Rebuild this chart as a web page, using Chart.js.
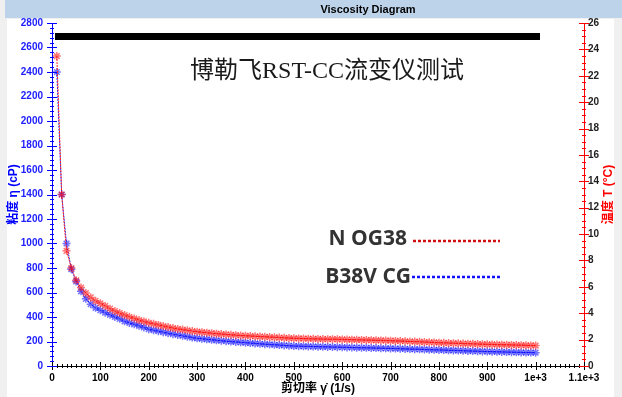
<!DOCTYPE html>
<html>
<head>
<meta charset="utf-8">
<script src="https://cdn.jsdelivr.net/npm/chart.js@4.4.1/dist/chart.umd.min.js"></script>
<style>
    html, body { margin: 0; padding: 0; background: #f0f0f0; }
    canvas { display: block; }
</style>
</head>
<body>
<canvas id="chart" width="622" height="397"></canvas>
<script>
// shear rate (1/s)
const shearRate = [
    10, 20, 30, 40, 50, 60, 70, 80, 90, 100,
    110, 120, 130, 140, 150, 160, 170, 180, 190, 200,
    210, 220, 230, 240, 250, 260, 270, 280, 290, 300,
    310, 320, 330, 340, 350, 360, 370, 380, 390, 400,
    410, 420, 430, 440, 450, 460, 470, 480, 490, 500,
    510, 520, 530, 540, 550, 560, 570, 580, 590, 600,
    610, 620, 630, 640, 650, 660, 670, 680, 690, 700,
    710, 720, 730, 740, 750, 760, 770, 780, 790, 800,
    810, 820, 830, 840, 850, 860, 870, 880, 890, 900,
    910, 920, 930, 940, 950, 960, 970, 980, 990, 1000
];
// viscosity (cP), N OG38 (red)
const viscosityNOG38 = [
    2530, 1400, 940, 800, 700, 640, 595, 560, 532, 512,
    490, 468, 448, 432, 416, 402, 388, 375, 364, 353,
    344, 335, 326, 318, 310, 303, 297, 291, 285, 280,
    276, 272, 268, 264, 261, 258, 255, 252, 249, 247,
    245, 242, 240, 238, 236, 234, 232, 230, 228, 226,
    225, 224, 223, 222, 221, 220, 219, 219, 218, 217,
    216, 215, 214, 213, 212, 211, 210, 209, 208, 207,
    205, 204, 202, 200, 199, 197, 195, 194, 192, 190,
    189, 187, 186, 185, 183, 182, 181, 179, 178, 177,
    176, 175, 174, 173, 172, 171, 170, 169, 168, 167
];
// viscosity (cP), B38V CG (blue)
const viscosityB38VCG = [
    2400, 1400, 1000, 790, 690, 610, 548, 505, 475, 455,
    435, 418, 400, 385, 365, 352, 340, 328, 315, 300,
    292, 284, 276, 268, 260, 253, 246, 239, 232, 226,
    222, 218, 214, 210, 206, 202, 199, 196, 193, 190,
    187, 184, 181, 178, 176, 173, 171, 168, 166, 163,
    162, 161, 160, 159, 158, 157, 156, 155, 154, 153,
    152, 151, 150, 149, 148, 147, 146, 145, 144, 143,
    142, 141, 139, 138, 137, 136, 135, 133, 132, 131,
    130, 128, 127, 126, 125, 123, 122, 121, 119, 118,
    117, 116, 115, 114, 113, 112, 111, 110, 110, 109
];
const xTickLabels = {1000: '1e+3', 1100: '1.1e+3'};

const seriesNames = ['N OG38', 'B38V CG'];
const FONT = "'Liberation Sans', Arial, sans-serif";

function points(ys) {
    return shearRate.map((x, i) => ({x: x, y: ys[i]}));
}

// background, header band, white panel
const backdrop = {
    id: 'backdrop',
    beforeDraw(chart) {
        const ctx = chart.ctx;
        ctx.save();
        ctx.fillStyle = '#f0f0f0';
        ctx.fillRect(0, 0, chart.width, chart.height);
        ctx.fillStyle = '#bdd3ea';
        ctx.fillRect(5, 0, chart.width - 5, 18);
        ctx.fillStyle = '#ffffff';
        ctx.fillRect(7, 19, 607, chart.height - 19);
        ctx.fillStyle = '#000';
        ctx.font = 'bold 11px ' + FONT;
        ctx.textAlign = 'center';
        ctx.textBaseline = 'middle';
        ctx.fillText('Viscosity Diagram', 368, 10);
        ctx.restore();
    }
};

function tickMarks(ctx, scale, step, from, to, horizontal, edge, len, color) {
    ctx.strokeStyle = color;
    ctx.lineWidth = 1;
    ctx.beginPath();
    for (let v = from; v <= to + 1e-9; v += step) {
        const p = Math.round(scale.getPixelForValue(v)) + 0.5;
        if (horizontal) {
            ctx.moveTo(p, edge - len);
            ctx.lineTo(p, edge + len);
        } else {
            ctx.moveTo(edge - len, p);
            ctx.lineTo(edge + len, p);
        }
    }
    ctx.stroke();
}

const decorations = {
    id: 'decorations',
    afterDraw(chart) {
        const ctx = chart.ctx;
        const area = chart.chartArea;
        const sx = chart.scales.x, sy = chart.scales.y, sy1 = chart.scales.y1;
        ctx.save();

        // ticks
        tickMarks(ctx, sx, 10, 0, 1100, true, area.bottom, 2, '#000');
        tickMarks(ctx, sx, 100, 0, 1100, true, area.bottom, 4, '#000');
        tickMarks(ctx, sy, 40, 0, 2800, false, area.left, 2, '#0000ff');
        tickMarks(ctx, sy, 200, 0, 2800, false, area.left, 5, '#0000ff');
        tickMarks(ctx, sy1, 0.5, 0, 26, false, area.right, 2, '#ff0000');
        tickMarks(ctx, sy1, 2, 0, 26, false, area.right, 5, '#ff0000');

        // axis titles
        const midY = (area.top + area.bottom) / 2;
        ctx.textAlign = 'center';
        ctx.textBaseline = 'middle';
        ctx.font = "bold 12px 'Liberation Sans', 'Noto Sans CJK SC', sans-serif";
        ctx.fillStyle = '#0000ff';
        ctx.save();
        ctx.translate(14, midY);
        ctx.rotate(-Math.PI / 2);
        ctx.fillText('粘度 η (cP)', 0, 0);
        ctx.restore();
        ctx.fillStyle = '#ff0000';
        ctx.save();
        ctx.translate(609, midY);
        ctx.rotate(-Math.PI / 2);
        ctx.fillText('温度 T (°C)', 0, 0);
        ctx.restore();
        ctx.fillStyle = '#000';
        ctx.fillText('剪切率 γ̇ (1/s)', (area.left + area.right) / 2, 389);

        // redaction bar
        ctx.fillStyle = '#000';
        ctx.fillRect(55, 33, 485, 7);

        // subtitle
        ctx.font = "24px 'Liberation Serif', 'Noto Sans CJK SC', serif";
        ctx.fillStyle = '#1a1a1a';
        ctx.fillText('博勒飞RST-CC流变仪测试', 327, 72);

        // legend
        ctx.font = "bold 21px 'Open Sans', 'Liberation Sans', sans-serif";
        ctx.fillStyle = '#333333';
        ctx.textAlign = 'right';
        ctx.fillText(seriesNames[0], 407, 239);
        ctx.fillText(seriesNames[1], 411, 277);
        ctx.lineWidth = 2.5;
        ctx.setLineDash([3, 2]);
        ctx.strokeStyle = '#d01010';
        ctx.beginPath();
        ctx.moveTo(413, 241);
        ctx.lineTo(500, 241);
        ctx.stroke();
        ctx.strokeStyle = '#1010ff';
        ctx.beginPath();
        ctx.moveTo(412, 277);
        ctx.lineTo(500, 277);
        ctx.stroke();
        ctx.restore();
    }
};

new Chart(document.getElementById('chart'), {
    type: 'line',
    data: {
        datasets: [
            {
                label: seriesNames[0],
                data: points(viscosityNOG38),
                yAxisID: 'y',
                borderColor: '#ff2020',
                borderWidth: 1,
                borderDash: [2, 1],
                pointStyle: 'star',
                pointRadius: 4,
                pointBorderWidth: 1.5,
                pointBorderColor: 'rgba(255, 0, 0, 0.55)',
                pointBackgroundColor: 'rgba(255, 0, 0, 0.55)',
                order: 0
            },
            {
                label: seriesNames[1],
                data: points(viscosityB38VCG),
                yAxisID: 'y',
                borderColor: '#2020ff',
                borderWidth: 1,
                borderDash: [2, 1],
                pointStyle: 'star',
                pointRadius: 4,
                pointBorderWidth: 1.5,
                pointBorderColor: 'rgba(0, 0, 255, 0.55)',
                pointBackgroundColor: 'rgba(0, 0, 255, 0.55)',
                order: 1
            }
        ]
    },
    options: {
        responsive: false,
        animation: false,
        devicePixelRatio: 1,
        layout: {padding: {top: 23, left: 0, right: 0, bottom: 0}},
        plugins: {
            legend: {display: false},
            tooltip: {enabled: false}
        },
        scales: {
            x: {
                type: 'linear',
                min: 0,
                max: 1100,
                afterFit: (scale) => { scale.height = 31; },
                grid: {display: false, drawTicks: false},
                border: {display: true, color: '#000', width: 1},
                ticks: {
                    stepSize: 100,
                    padding: 6,
                    maxRotation: 0,
                    color: '#000',
                    font: {family: FONT, size: 10, weight: 'bold'},
                    callback: (v) => xTickLabels[v] || String(v)
                }
            },
            y: {
                type: 'linear',
                position: 'left',
                min: 0,
                max: 2800,
                afterFit: (scale) => { scale.width = 52; },
                grid: {display: false, drawTicks: false},
                border: {display: true, color: '#0000ff', width: 1},
                ticks: {
                    stepSize: 200,
                    padding: 9,
                    color: '#2020ff',
                    font: {family: FONT, size: 10, weight: 'bold'},
                    callback: (v) => String(v)
                }
            },
            y1: {
                type: 'linear',
                position: 'right',
                min: 0,
                max: 26,
                afterFit: (scale) => { scale.width = 38; },
                grid: {display: false, drawTicks: false},
                border: {display: true, color: '#ff0000', width: 1},
                ticks: {
                    stepSize: 2,
                    padding: 4,
                    color: '#222',
                    font: {family: FONT, size: 10, weight: 'bold'},
                    callback: (v) => String(v)
                }
            }
        }
    },
    plugins: [backdrop, decorations]
});
</script>
</body>
</html>
